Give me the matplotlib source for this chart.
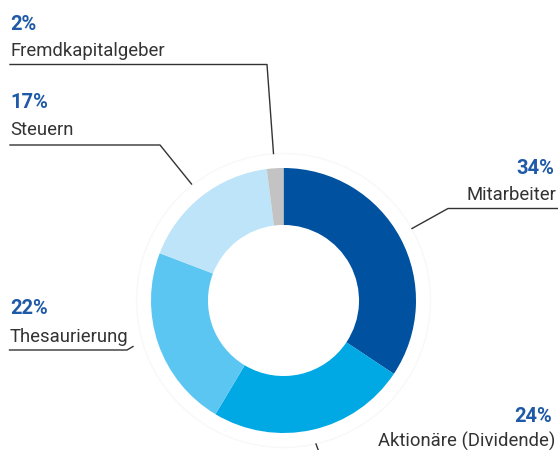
import matplotlib.pyplot as plt
from matplotlib.patches import Circle

# Daten (im Uhrzeigersinn ab 12 Uhr)
kategorien = ['Mitarbeiter', 'Aktionäre (Dividende)', 'Thesaurierung', 'Steuern', 'Fremdkapitalgeber']
anteile = [34, 24, 22, 17, 2]
farben = ['#0052a0', '#00a8e4', '#5bc6f2', '#bde4f9', '#c3c3c3']

blau_text = '#1f5aa8'
grau_text = '#333333'
linie = '#333333'

plt.rcParams['font.family'] = ['Roboto', 'DejaVu Sans']

fig = plt.figure(figsize=(5.58, 4.5), dpi=100)
ax = fig.add_axes([0, 0, 1, 1])

# y-Achse ist invertiert (Pixelkoordinaten), daher startangle=-90 + counterclock=True
# -> optisch: Start oben, im Uhrzeigersinn
cx, cy, r = 283.5, 300.5, 132.5
ax.pie(anteile, colors=farben, startangle=-90, counterclock=True,
       center=(cx, cy), radius=r,
       wedgeprops=dict(width=r * 0.43, edgecolor='none'))
ax.add_patch(Circle((cx, cy), 147, fill=False, edgecolor='#f8f8f8', lw=1))

ax.set_xlim(0, 558)
ax.set_ylim(450, 0)
ax.set_aspect('equal')
ax.axis('off')

# Beschriftungen: (Position Prozent, Position Name, Ausrichtung)
beschriftung = {
    'Fremdkapitalgeber': ((10, 29.5), (10, 56), 'left'),
    'Steuern': ((10, 108.5), (10, 135), 'left'),
    'Thesaurierung': ((10, 314.5), (10, 341.5), 'left'),
    'Mitarbeiter': ((554, 173.5), (556, 199.5), 'right'),
    'Aktionäre (Dividende)': ((552, 421.5), (555, 447), 'right'),
}
for kat, wert in zip(kategorien, anteile):
    (px, py), (nx, ny), ha = beschriftung[kat]
    ax.text(px, py, f'{wert}%', color=blau_text, fontsize=14.5, fontweight='bold',
            ha=ha, va='baseline')
    ax.text(nx, ny, kat, color=grau_text, fontsize=13.3, ha=ha, va='baseline')

# Verbindungslinien
ax.plot([10, 267, 273.5], [64.5, 64.5, 153.5], color=linie, lw=1)
ax.plot([10, 160, 191.5], [145, 145, 184], color=linie, lw=1)
ax.plot([412, 448, 558], [228.5, 208.5, 208.5], color=linie, lw=1)
ax.plot([9.5, 127, 133], [350, 350, 346.5], color=linie, lw=1)
ax.plot([316, 319], [444, 452], color=linie, lw=1)

fig.savefig('out.png', dpi=100)
